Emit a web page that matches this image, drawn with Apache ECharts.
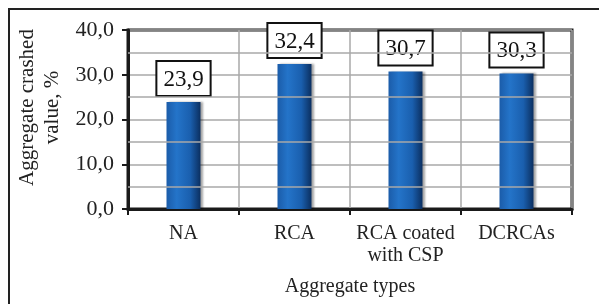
<!DOCTYPE html>
<html>
<head>
<meta charset="utf-8">
<script src="https://cdn.jsdelivr.net/npm/echarts@6/dist/echarts.min.js"></script>
<style>
  html, body { margin: 0; padding: 0; background: #fff; }
  #chart { width: 599px; height: 304px; }
</style>
</head>
<body>
<div id="chart"></div>
<script>
"use strict";
// chart data
const categories = ['NA', 'RCA', 'RCA coated\nwith CSP', 'DCRCAs'];
const crushedValues = [23.9, 32.4, 30.7, 30.3];
const yTicks = [0, 10, 20, 30, 40];
const minorGrid = [5, 15, 25, 35];

const serif = '"Liberation Serif", "Times New Roman", serif';
const fmt = v => v.toFixed(1).replace('.', ',');

const myChart = echarts.init(document.getElementById('chart'));

const barColor = new echarts.graphic.LinearGradient(0, 0, 1, 0, [
  { offset: 0, color: '#1b5ca9' },
  { offset: 0.3, color: '#2474c9' },
  { offset: 0.7, color: '#1a5fae' },
  { offset: 1, color: '#0b2f60' }
]);

const gridLine = { color: '#a8a8a8', width: 1.5 };

const option = {
  animation: false,
  backgroundColor: '#fff',
  graphic: [
    {
      // outer frame, runs off the right and bottom of the picture
      type: 'rect',
      shape: { x: 9, y: 9, width: 620, height: 320 },
      style: { fill: 'none', stroke: '#222', lineWidth: 2 },
      z: 0
    }
  ],
  grid: {
    left: 128, right: 27, top: 30, bottom: 95,
    show: true,
    borderColor: '#1a1a1a',
    borderWidth: 3
  },
  xAxis: {
    type: 'category',
    data: categories,
    boundaryGap: true,
    name: 'Aggregate types',
    nameLocation: 'middle',
    nameGap: 68,
    nameTextStyle: { fontFamily: serif, fontSize: 20, color: '#222' },
    axisLine: { lineStyle: { color: '#1a1a1a', width: 3 } },
    axisTick: { show: true, interval: 0, length: 6, lineStyle: { color: '#1a1a1a', width: 2 } },
    axisLabel: { interval: 0, fontFamily: serif, fontSize: 20, color: '#222', margin: 14, lineHeight: 22 },
    splitLine: { show: true, interval: 0, lineStyle: gridLine }
  },
  yAxis: {
    type: 'value',
    min: yTicks[0],
    max: yTicks[yTicks.length - 1],
    interval: 10,
    name: 'Aggregate crashed\nvalue, %',
    nameLocation: 'middle',
    nameGap: 62,
    nameTextStyle: { fontFamily: serif, fontSize: 21, color: '#222', lineHeight: 25, padding: [0, 0, 0, 24] },
    axisLine: { show: true, lineStyle: { color: '#1a1a1a', width: 3 } },
    axisTick: { show: true, length: 6, lineStyle: { color: '#1a1a1a', width: 2 } },
    axisLabel: { fontFamily: serif, fontSize: 22, color: '#222', margin: 14, formatter: v => fmt(v) },
    splitLine: { show: true, lineStyle: gridLine }
  },
  series: [
    {
      // carries the in-between grid lines only, kept under the bars
      type: 'line',
      data: [],
      z: 1,
      silent: true,
      markLine: {
        silent: true,
        symbol: 'none',
        label: { show: false },
        lineStyle: { color: gridLine.color, width: gridLine.width, type: 'solid' },
        data: minorGrid.map(v => ({ yAxis: v }))
      }
    },
    {
      type: 'bar',
      data: crushedValues,
      barWidth: 34,
      itemStyle: {
        color: barColor,
        shadowColor: 'rgba(0,0,0,0.35)',
        shadowBlur: 2,
        shadowOffsetX: 2
      },
      label: {
        show: true,
        position: 'top',
        distance: 7,
        formatter: p => fmt(p.value),
        fontFamily: serif,
        fontSize: 23,
        color: '#111',
        backgroundColor: '#fff',
        borderColor: '#111',
        borderWidth: 2,
        padding: [6, 6, 4, 6]
      },
      z: 3
    }
  ]
};

myChart.setOption(option);
</script>
</body>
</html>
